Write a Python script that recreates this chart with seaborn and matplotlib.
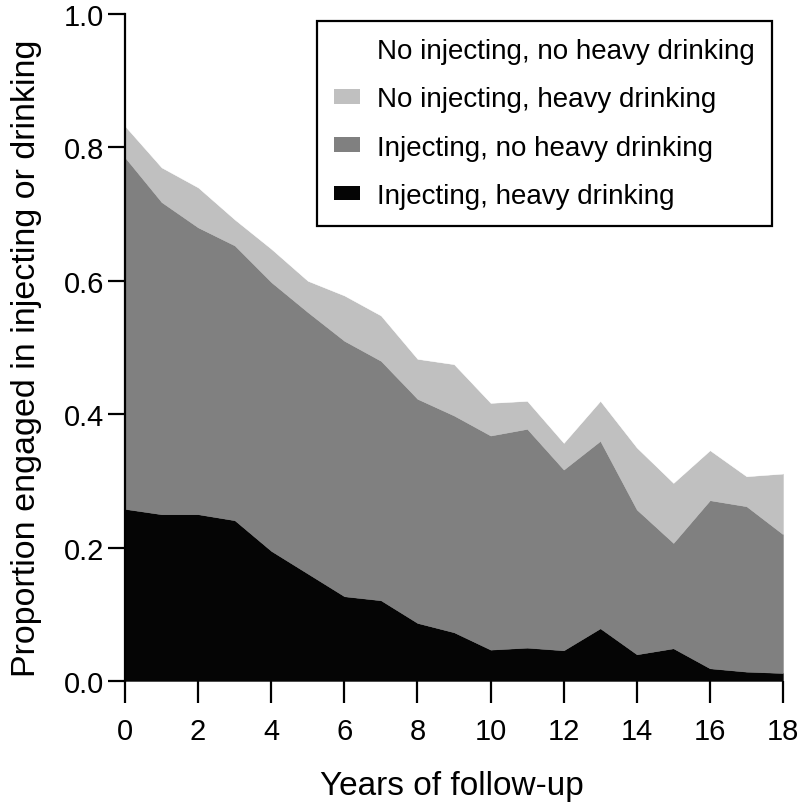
import matplotlib
matplotlib.use("Agg")
import matplotlib.pyplot as plt
import seaborn as sns
import numpy as np
import pandas as pd
from matplotlib.patches import Patch
from matplotlib.ticker import FormatStrFormatter

# ---- data ----
years = list(range(19))
inj_heavy = [0.258, 0.250, 0.250, 0.241, 0.195, 0.161, 0.127, 0.121, 0.087, 0.073,
             0.047, 0.050, 0.046, 0.079, 0.040, 0.049, 0.019, 0.014, 0.012]
inj_noheavy = [0.527, 0.468, 0.430, 0.412, 0.403, 0.392, 0.383, 0.359, 0.336, 0.325,
               0.321, 0.328, 0.271, 0.281, 0.217, 0.158, 0.252, 0.248, 0.208]
noinj_heavy = [0.047, 0.052, 0.060, 0.039, 0.050, 0.047, 0.068, 0.068, 0.060, 0.077,
               0.049, 0.042, 0.040, 0.060, 0.093, 0.090, 0.075, 0.045, 0.091]
noinj_noheavy = [0.168, 0.230, 0.260, 0.308, 0.352, 0.400, 0.422, 0.452, 0.517, 0.525,
                 0.583, 0.580, 0.643, 0.580, 0.650, 0.703, 0.654, 0.693, 0.689]
labels = ["Injecting, heavy drinking", "Injecting, no heavy drinking",
          "No injecting, heavy drinking", "No injecting, no heavy drinking"]
colors = ["#050505", "#808080", "#c0c0c0", "#ffffff"]
x_ticks = [0, 2, 4, 6, 8, 10, 12, 14, 16, 18]
y_ticks = [0.0, 0.2, 0.4, 0.6, 0.8, 1.0]

df = pd.DataFrame({"year": years, labels[0]: inj_heavy, labels[1]: inj_noheavy,
                   labels[2]: noinj_heavy, labels[3]: noinj_noheavy})

sns.set_theme(style="ticks")
plt.rcParams["font.family"] = ["Liberation Sans", "DejaVu Sans"]

fig = plt.figure(figsize=(8, 8.12), dpi=100)
ax = fig.add_axes([125 / 800, 1 - 682 / 812, 658 / 800, 667 / 812])

ax.stackplot(df["year"], [df[l] for l in labels], colors=colors,
             edgecolor="face", linewidth=0.3)

ax.set_xlim(0, 18)
ax.set_ylim(0, 1)
ax.set_xticks(x_ticks)
ax.set_yticks(y_ticks)
ax.yaxis.set_major_formatter(FormatStrFormatter("%.1f"))

sns.despine(ax=ax, top=True, right=True, bottom=True)
ax.spines["left"].set_linewidth(1.6)
ax.spines["left"].set_color("black")
ax.tick_params(axis="x", direction="out", length=16, width=1.6, pad=10,
               labelsize=21, colors="black")
ax.tick_params(axis="y", direction="out", length=12, width=1.6, pad=3,
               labelsize=21, colors="black")
ax.grid(False)

ax.set_xlabel("Years of follow-up", fontsize=24, color="black", va="center")
ax.xaxis.set_label_coords(452 / 800, 1 - 787 / 812, transform=fig.transFigure)
ax.set_ylabel("Proportion engaged in injecting or drinking", fontsize=24.5,
              color="black", va="center")
ax.yaxis.set_label_coords(27 / 800, 1 - 358 / 812, transform=fig.transFigure)

handles = [Patch(facecolor=colors[i], edgecolor="none", label=labels[i])
           for i in [3, 2, 1, 0]]
leg = ax.legend(handles=handles, loc="upper right",
                bbox_to_anchor=(772 / 800, 1 - 22 / 812),
                bbox_transform=fig.transFigure, borderaxespad=0,
                fontsize=20, frameon=True, fancybox=False, framealpha=1,
                edgecolor="black", handlelength=0.95, handleheight=0.45,
                handletextpad=0.6, labelspacing=0.8, borderpad=0.62)
leg.get_frame().set_linewidth(1.6)
for t in leg.get_texts():
    t.set_color("black")

fig.savefig("out.png", dpi=100)
